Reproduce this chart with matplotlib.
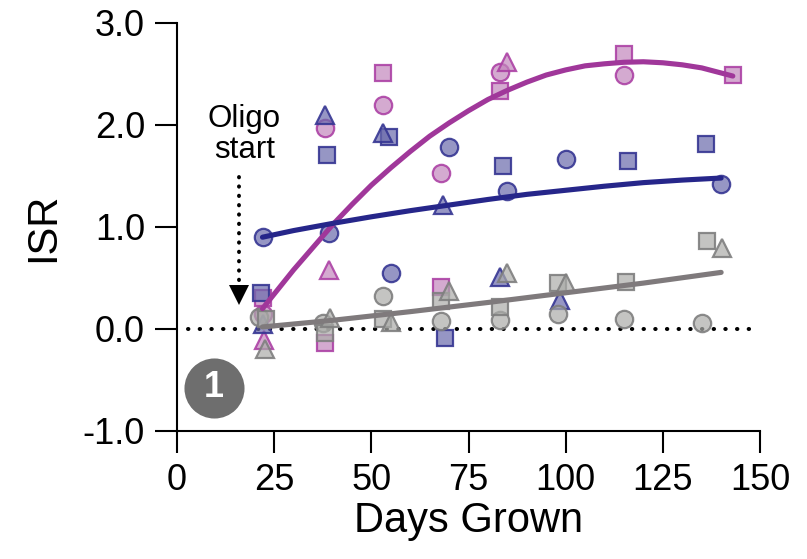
import matplotlib
matplotlib.use("Agg")
import matplotlib.pyplot as plt

plt.rcParams["font.family"] = ["Liberation Sans", "DejaVu Sans"]
plt.rcParams["axes.unicode_minus"] = False

# ---- replicate measurements (days grown, ISR) ----
pink_circle_days = [22, 38, 53, 68, 83, 115]
pink_circle_isr = [0.15, 1.97, 2.20, 1.53, 2.52, 2.49]
pink_square_days = [22, 38, 53, 68, 83, 115, 143]
pink_square_isr = [0.30, -0.14, 2.51, 0.41, 2.33, 2.70, 2.49]
pink_tri_days = [22.5, 39, 85]
pink_tri_isr = [-0.11, 0.58, 2.62]

navy_circle_days = [22, 39, 55, 70, 85, 100, 140]
navy_circle_isr = [0.905, 0.94, 0.55, 1.78, 1.35, 1.67, 1.42]
navy_square_days = [21.5, 38.5, 54.5, 69, 84, 116, 136]
navy_square_isr = [0.35, 1.71, 1.88, -0.09, 1.60, 1.65, 1.81]
navy_tri_days = [22, 38, 53, 68.5, 83, 98.5]
navy_tri_isr = [0.05, 2.10, 1.92, 1.22, 0.51, 0.28]

gray_circle_days = [21, 37.5, 53, 68, 83, 98, 115, 135]
gray_circle_isr = [0.12, 0.06, 0.32, 0.08, 0.09, 0.15, 0.095, 0.06]
gray_square_days = [23, 38, 53, 68, 83, 98, 115.4, 136.3]
gray_square_isr = [0.10, -0.04, 0.10, 0.27, 0.22, 0.45, 0.46, 0.86]
gray_tri_days = [22.6, 39.4, 55, 70, 85, 100, 140.3]
gray_tri_isr = [-0.20, 0.11, 0.07, 0.37, 0.55, 0.45, 0.79]

# ---- fitted trend curves (days, ISR) ----
pink_fit_days = [22, 26, 30, 35, 40, 45, 50, 55, 60, 65, 70, 75, 80, 85, 90,
                 95, 100, 105, 110, 115, 120, 125, 130, 135, 140, 143]
pink_fit_isr = [0.20, 0.39, 0.58, 0.80, 1.02, 1.22, 1.41, 1.58, 1.74, 1.89, 2.02,
                2.14, 2.25, 2.34, 2.42, 2.49, 2.54, 2.58, 2.60, 2.615, 2.62, 2.61,
                2.59, 2.56, 2.51, 2.48]
navy_fit_days = [22, 30, 40, 50, 60, 70, 80, 90, 100, 110, 120, 130, 140]
navy_fit_isr = [0.90, 0.965, 1.035, 1.10, 1.16, 1.215, 1.27, 1.32, 1.36, 1.40, 1.435, 1.46, 1.48]
gray_fit_days = [22, 40, 60, 80, 100, 120, 140]
gray_fit_isr = [0.02, 0.085, 0.17, 0.26, 0.355, 0.45, 0.555]

x_ticks = [0, 25, 50, 75, 100, 125, 150]
y_ticks = [-1.0, 0.0, 1.0, 2.0, 3.0]

# ---- colours ----
pink_face = (194 / 255, 134 / 255, 188 / 255, 0.7)
pink_edge = (172 / 255, 66 / 255, 165 / 255, 0.9)
pink_line = "#a0379a"
navy_face = (106 / 255, 106 / 255, 171 / 255, 0.7)
navy_edge = (54 / 255, 54 / 255, 147 / 255, 0.9)
navy_line = "#26268a"
gray_face = (171 / 255, 172 / 255, 169 / 255, 0.7)
gray_edge = (127 / 255, 127 / 255, 127 / 255, 0.9)
gray_line = "#7f7a7c"

fig = plt.figure(figsize=(8.07, 5.59), dpi=100)
ax = fig.add_axes([177 / 807, 1 - 431 / 559, (760 - 177) / 807, (431 - 23) / 559])

# zero reference line
ax.plot([2.8, 148], [0, 0], color="black", lw=2.9, linestyle=(0, (0.1, 2.8)),
        dash_capstyle="round", zorder=1)

ms = 12.5
mew = 1.6
groups = [
    (pink_face, pink_edge, [(pink_circle_days, pink_circle_isr, "o"),
                            (pink_square_days, pink_square_isr, "s"),
                            (pink_tri_days, pink_tri_isr, "^")]),
    (navy_face, navy_edge, [(navy_circle_days, navy_circle_isr, "o"),
                            (navy_square_days, navy_square_isr, "s"),
                            (navy_tri_days, navy_tri_isr, "^")]),
    (gray_face, gray_edge, [(gray_circle_days, gray_circle_isr, "o"),
                            (gray_square_days, gray_square_isr, "s"),
                            (gray_tri_days, gray_tri_isr, "^")]),
]
for face, edge, series in groups:
    for days, vals, mk in series:
        size = ms if mk != "s" else ms * 0.95
        ax.plot(days, vals, linestyle="none", marker=mk, ms=size, mfc=face,
                mec=edge, mew=mew, zorder=2)

for days, vals, col in [(pink_fit_days, pink_fit_isr, pink_line),
                        (navy_fit_days, navy_fit_isr, navy_line),
                        (gray_fit_days, gray_fit_isr, gray_line)]:
    ax.plot(days, vals, color=col, lw=3.7, solid_capstyle="round",
            solid_joinstyle="round", zorder=3)

# "Oligo start" annotation with dotted arrow
ax.text(17.3, 1.91, "Oligo\nstart", ha="center", va="center", fontsize=22.5,
        linespacing=1.05, multialignment="center")
ax.plot([16, 16], [1.49, 0.45], color="black", lw=2.8, linestyle=(0, (0.1, 2.3)),
        dash_capstyle="round", zorder=4)
ax.plot([16], [0.335], marker="v", ms=14, color="black", mew=0, zorder=4)

# panel badge
ax.scatter([9.5], [-0.58], s=1870, color="#6e6e6e", linewidths=0, zorder=5, clip_on=False)
ax.text(9.5, -0.575, "1", color="white", fontsize=26, fontweight="bold",
        ha="center", va="center", zorder=6)

ax.set_xlim(0, 150)
ax.set_ylim(-1, 3)
ax.set_xticks(x_ticks)
ax.set_xticklabels([str(t) for t in x_ticks])
ax.set_yticks(y_ticks)
ax.set_yticklabels([f"{t:.1f}" for t in y_ticks])

for side in ("top", "right"):
    ax.spines[side].set_visible(False)
for side in ("left", "bottom"):
    ax.spines[side].set_linewidth(1.5)
ax.tick_params(axis="both", direction="out", length=16, width=1.5,
               labelsize=26, pad=7)

ax.set_xlabel("Days Grown", fontsize=30, labelpad=2)
ax.set_ylabel("ISR", fontsize=30, labelpad=14)

fig.savefig("out.png", dpi=100)
